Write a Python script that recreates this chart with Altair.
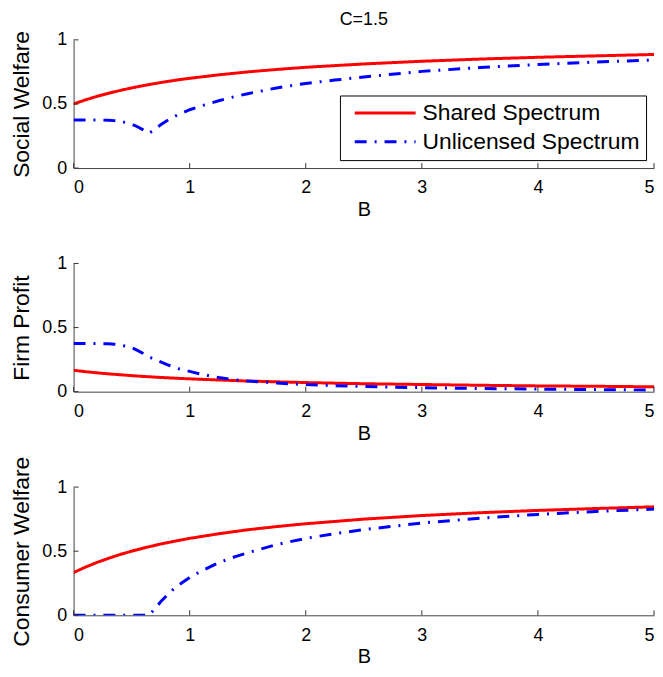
import altair as alt
import pandas as pd

series_names = ["Shared Spectrum", "Unlicensed Spectrum"]

# Shared spectrum (solid red)
b_shared = [0, 0.1, 0.2, 0.3, 0.4, 0.5, 0.6, 0.75, 0.9, 1, 1.25, 1.5, 1.75, 2, 2.5, 3, 3.5, 4, 4.5, 5]
sw_shared = [0.5, 0.531, 0.559, 0.583, 0.605, 0.625, 0.643, 0.667, 0.688, 0.7, 0.727, 0.75, 0.769,
             0.786, 0.812, 0.833, 0.85, 0.864, 0.875, 0.886]
profit_shared = [0.167, 0.156, 0.147, 0.139, 0.132, 0.125, 0.119, 0.111, 0.104, 0.1, 0.091, 0.083,
                 0.077, 0.071, 0.062, 0.056, 0.05, 0.045, 0.042, 0.038]
cw_shared = [0.333, 0.375, 0.412, 0.444, 0.474, 0.5, 0.524, 0.556, 0.583, 0.6, 0.636, 0.667, 0.692,
             0.714, 0.75, 0.778, 0.8, 0.818, 0.833, 0.846]

# Unlicensed spectrum (blue dash-dot)
b_unl = [0, 0.1, 0.2, 0.3, 0.35, 0.4, 0.45, 0.5, 0.55, 0.6, 0.65, 0.7, 0.75, 0.8, 0.85, 0.9, 1.0,
         1.1, 1.25, 1.4, 1.5, 1.75, 2, 2.25, 2.5, 3, 3.5, 4, 4.5, 5]
sw_unl = [0.375, 0.375, 0.375, 0.373, 0.37, 0.364, 0.355, 0.343, 0.322, 0.298, 0.272, 0.302, 0.338,
          0.367, 0.394, 0.416, 0.455, 0.485, 0.525, 0.56, 0.58, 0.625, 0.66, 0.686, 0.71, 0.754,
          0.784, 0.808, 0.827, 0.843]
profit_unl = [0.375, 0.375, 0.375, 0.373, 0.37, 0.364, 0.355, 0.343, 0.322, 0.298, 0.272, 0.25,
              0.232, 0.213, 0.196, 0.18, 0.158, 0.136, 0.11, 0.092, 0.083, 0.067, 0.055, 0.047,
              0.04, 0.031, 0.025, 0.02, 0.016, 0.013]
cw_unl = [0, 0, 0, 0, 0, 0, 0, 0, 0, 0, 0, 0.05, 0.105, 0.152, 0.195, 0.232, 0.295, 0.345, 0.41,
          0.46, 0.488, 0.552, 0.6, 0.637, 0.668, 0.72, 0.757, 0.787, 0.81, 0.828]

x_ticks = [0, 1, 2, 3, 4, 5]
y_ticks = [0, 0.5, 1]
panel_titles = ["Social Welfare", "Firm Profit", "Consumer Welfare"]

FONT = "Liberation Sans"
W, H = 584, 129


def long_df(v_shared, v_unl):
    return pd.DataFrame({
        "B": b_shared + b_unl,
        "value": v_shared + v_unl,
        "series": [series_names[0]] * len(b_shared) + [series_names[1]] * len(b_unl),
    })


def panel(df, ytitle, show_legend, title=None):
    if show_legend:
        leg = alt.Legend(orient="none", legendX=268, legendY=56, title=None,
                         symbolType="M-5,0H5", symbolSize=150, symbolStrokeWidth=3,
                         symbolOffset=28, labelOffset=26,
                         labelExpr="datum.label + '\u2002\u2002\u2002'",
                         labelFontSize=23, labelFont=FONT, labelColor="black",
                         strokeColor="black", fillColor="white", padding=6,
                         rowPadding=5, labelLimit=400)
    else:
        leg = None
    x = alt.X("B:Q", scale=alt.Scale(domain=[0, 5], nice=False, zero=False),
              axis=alt.Axis(values=x_ticks, title="B", format="~g", labelPadding=11,
                            titlePadding=3))
    y = alt.Y("value:Q", scale=alt.Scale(domain=[0, 1], nice=False),
              axis=alt.Axis(values=y_ticks, title=ytitle, format="~g", labelPadding=7,
                            titlePadding=8))
    lines = alt.Chart(df).mark_line(strokeWidth=3, clip=True).encode(
        x=x, y=y,
        color=alt.Color("series:N", scale=alt.Scale(domain=series_names, range=["#ff0000", "#0000ff"]),
                        legend=leg),
        strokeDash=alt.StrokeDash("series:N",
                                  scale=alt.Scale(domain=series_names, range=[[1, 0], [12, 8, 2, 8]]),
                                  legend=leg),
    )
    xt = alt.Chart(pd.DataFrame({"B": x_ticks})).mark_rule(color="#333", strokeWidth=1).encode(
        x=alt.X("B:Q"), y=alt.value(H), y2=alt.value(H - 5))
    yt = alt.Chart(pd.DataFrame({"value": y_ticks})).mark_rule(color="#333", strokeWidth=1).encode(
        y=alt.Y("value:Q"), x=alt.value(0), x2=alt.value(5))
    props = dict(width=W, height=H)
    if title is not None:
        props["title"] = alt.Title(title, frame="group", fontSize=18, font=FONT,
                                   fontWeight="normal", color="black", offset=2)
    return alt.layer(lines, xt, yt).properties(**props)


p1 = panel(long_df(sw_shared, sw_unl), panel_titles[0], True, "C=1.5")
p2 = panel(long_df(profit_shared, profit_unl), panel_titles[1], False)
p3 = panel(long_df(cw_shared, cw_unl), panel_titles[2], False)

chart = alt.vconcat(p1, p2, p3, spacing=96, bounds="flush").resolve_legend(
    color="independent", strokeDash="independent"
).properties(padding={"left": 2, "top": 0, "right": 0, "bottom": 0}).configure_view(
    stroke=None
).configure_axis(
    grid=False, ticks=False, domainColor="#444", domainWidth=1,
    labelFont=FONT, labelFontSize=18, labelColor="black",
    titleFont=FONT, titleFontSize=20, titleFontWeight="normal", titleColor="black",
).configure_axisY(titleFontSize=23)

chart.save("out.html", embed_options={"renderer": "svg", "actions": False})
